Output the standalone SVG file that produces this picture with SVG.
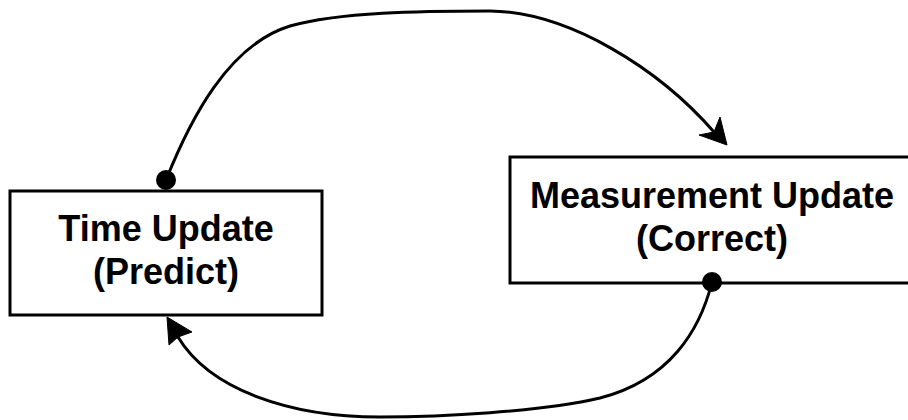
<svg xmlns="http://www.w3.org/2000/svg" width="908" height="420" viewBox="0 0 908 420">
<style>
.box{fill:#fff;stroke:#000;stroke-width:3}
.lbl{font-family:"Liberation Sans",Arial,sans-serif;font-weight:bold;font-size:36px;fill:#000;text-anchor:middle}
.edge{fill:none;stroke:#000;stroke-width:3}
.head{fill:#000;stroke:#000;stroke-width:1}
</style>
<rect width="908" height="420" fill="#fff"/>
<g id="time-update">
<rect class="box" x="10" y="191" width="312" height="124"/>
<text class="lbl" x="166" y="241">Time Update</text>
<text class="lbl" x="166" y="284">(Predict)</text>
</g>
<g id="measurement-update">
<rect class="box" x="510" y="157" width="405" height="126"/>
<text class="lbl" x="712" y="208">Measurement Update</text>
<text class="lbl" x="712" y="251">(Correct)</text>
</g>
<g id="connectors">
<path class="edge" d="M166,180 C190,120 228,45 290,26 C340,12 420,11 490,11 C570,12 660,70 714,132"/>
<polygon class="head" points="727,145 720,117 714,132 699,135"/>
<circle cx="166" cy="180" r="10" fill="#000"/>
<path class="edge" d="M712,282 C700,330 670,380 600,398 C540,412 440,417 380,417 C290,417 210,390 178,337"/>
<polygon class="head" points="167,317 192,332 178,337 169,345"/>
<circle cx="712" cy="282" r="10" fill="#000"/>
</g>
</svg>
